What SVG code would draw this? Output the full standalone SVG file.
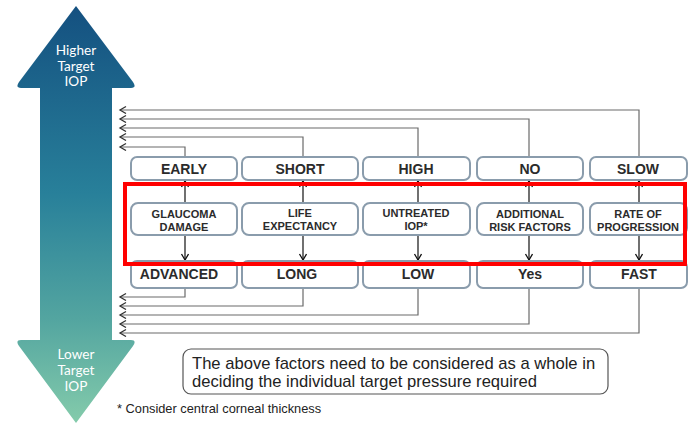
<svg xmlns="http://www.w3.org/2000/svg" width="694" height="426" viewBox="0 0 694 426">
<defs>
<linearGradient id="g" x1="0" y1="0" x2="0" y2="1" gradientUnits="objectBoundingBox">
<stop offset="0" stop-color="#145080"/>
<stop offset="0.45" stop-color="#28809a"/>
<stop offset="0.75" stop-color="#53a5a0"/>
<stop offset="1" stop-color="#84cbab"/>
</linearGradient>
<marker id="ag" markerUnits="userSpaceOnUse" markerWidth="10" markerHeight="10" refX="7" refY="4" orient="auto">
<path d="M1,0.5 L7,4 L1,7.5" fill="none" stroke="#333" stroke-width="1.3"/>
</marker>
<marker id="ab" markerUnits="userSpaceOnUse" markerWidth="10" markerHeight="10" refX="7" refY="4" orient="auto">
<path d="M1,0.5 L7,4 L1,7.5" fill="none" stroke="#111" stroke-width="1.3"/>
</marker>
</defs>
<style>
.box{fill:#fff;stroke:#8a9cac;stroke-width:2}
.t1{font-family:"Liberation Sans",Arial,sans-serif;font-weight:bold;font-size:14px;fill:#2b2b2b;text-anchor:middle}
.t2{font-family:"Liberation Sans",Arial,sans-serif;font-weight:bold;font-size:11px;fill:#2b2b2b;text-anchor:middle}
.ar{font-family:Lato,"Liberation Sans",sans-serif;font-size:13.6px;fill:#fff;text-anchor:middle}
.c{fill:none;stroke:#6a6a6a;stroke-width:1.2}
.m{fill:none;stroke:#111;stroke-width:1.2}
.n{font-family:"Liberation Sans",Arial,sans-serif;fill:#222}
</style>
<g id="iop-arrow">
<path d="M76,6 L133,82 Q137,88 131,88 L112,88 L112,340 L131,340 Q137,340 133,346 L76,423 L19,346 Q15,340 21,340 L40,340 L40,88 L21,88 Q15,88 19,82 Z" fill="url(#g)"/>
<text class="ar" x="76" y="55">Higher</text>
<text class="ar" x="76" y="70.5">Target</text>
<text class="ar" x="76" y="86">IOP</text>
<text class="ar" x="76" y="359">Lower</text>
<text class="ar" x="76" y="375">Target</text>
<text class="ar" x="76" y="391">IOP</text>
</g>
<g id="connectors">
<polyline class="c" points="185,157 185,147 120,147" marker-end="url(#ag)"/>
<polyline class="c" points="303,157 303,137 120,137" marker-end="url(#ag)"/>
<polyline class="c" points="418,157 418,128 120,128" marker-end="url(#ag)"/>
<polyline class="c" points="529,157 529,119 120,119" marker-end="url(#ag)"/>
<polyline class="c" points="639,157 639,110 120,110" marker-end="url(#ag)"/>
<polyline class="c" points="185,288 185,297 120,297" marker-end="url(#ag)"/>
<polyline class="c" points="303,288 303,306 120,306" marker-end="url(#ag)"/>
<polyline class="c" points="418,288 418,315 120,315" marker-end="url(#ag)"/>
<polyline class="c" points="529,288 529,324 120,324" marker-end="url(#ag)"/>
<polyline class="c" points="639,288 639,333 120,333" marker-end="url(#ag)"/>
<line class="m" x1="185" y1="203" x2="185" y2="181" marker-end="url(#ab)"/>
<line class="m" x1="303" y1="203" x2="303" y2="181" marker-end="url(#ab)"/>
<line class="m" x1="418" y1="203" x2="418" y2="181" marker-end="url(#ab)"/>
<line class="m" x1="529" y1="203" x2="529" y2="181" marker-end="url(#ab)"/>
<line class="m" x1="639" y1="203" x2="639" y2="181" marker-end="url(#ab)"/>
<line class="m" x1="185" y1="235" x2="185" y2="260" marker-end="url(#ab)"/>
<line class="m" x1="303" y1="235" x2="303" y2="260" marker-end="url(#ab)"/>
<line class="m" x1="418" y1="235" x2="418" y2="260" marker-end="url(#ab)"/>
<line class="m" x1="529" y1="235" x2="529" y2="260" marker-end="url(#ab)"/>
<line class="m" x1="639" y1="235" x2="639" y2="260" marker-end="url(#ab)"/>
</g>
<g id="early"><rect class="box" x="131" y="157" width="106" height="23" rx="6"/><text class="t1" x="184" y="174">EARLY</text></g>
<g id="short"><rect class="box" x="242" y="157" width="116" height="23" rx="6"/><text class="t1" x="300" y="174">SHORT</text></g>
<g id="high"><rect class="box" x="363" y="157" width="107" height="23" rx="6"/><text class="t1" x="416" y="174">HIGH</text></g>
<g id="no"><rect class="box" x="477" y="157" width="106" height="23" rx="6"/><text class="t1" x="530" y="174">NO</text></g>
<g id="slow"><rect class="box" x="590" y="157" width="97" height="23" rx="6"/><text class="t1" x="638" y="174">SLOW</text></g>
<g id="glaucoma"><rect class="box" x="131" y="203" width="106" height="32" rx="7"/><text class="t2" x="184" y="218">GLAUCOMA</text><text class="t2" x="184" y="231">DAMAGE</text></g>
<g id="life"><rect class="box" x="242" y="203" width="116" height="32" rx="7"/><text class="t2" x="300" y="217">LIFE</text><text class="t2" x="300" y="230">EXPECTANCY</text></g>
<g id="untreated"><rect class="box" x="363" y="203" width="107" height="32" rx="7"/><text class="t2" x="416" y="217">UNTREATED</text><text class="t2" x="416" y="230">IOP*</text></g>
<g id="additional"><rect class="box" x="477" y="203" width="106" height="32" rx="7"/><text class="t2" x="530" y="218">ADDITIONAL</text><text class="t2" x="530" y="231">RISK FACTORS</text></g>
<g id="rate"><rect class="box" x="590" y="203" width="97" height="32" rx="7"/><text class="t2" x="638" y="218">RATE OF</text><text class="t2" x="638" y="231">PROGRESSION</text></g>
<g id="advanced"><rect class="box" x="131" y="261" width="106" height="27" rx="6"/><text class="t1" x="179" y="279">ADVANCED</text></g>
<g id="long"><rect class="box" x="242" y="261" width="116" height="27" rx="6"/><text class="t1" x="297" y="279">LONG</text></g>
<g id="low"><rect class="box" x="363" y="261" width="107" height="27" rx="6"/><text class="t1" x="418" y="279">LOW</text></g>
<g id="yes"><rect class="box" x="477" y="261" width="106" height="27" rx="6"/><text class="t1" x="530" y="279">Yes</text></g>
<g id="fast"><rect class="box" x="590" y="261" width="97" height="27" rx="6"/><text class="t1" x="639" y="279">FAST</text></g>
<rect id="highlight" x="125" y="184" width="560" height="80" fill="none" stroke="#ff0000" stroke-width="4"/>
<g id="note">
<rect x="183" y="349" width="425" height="45" rx="8" fill="#fff" stroke="#555" stroke-width="1.2"/>
<text class="n" x="192" y="369" font-size="16.6">The above factors need to be considered as a whole in</text>
<text class="n" x="192" y="387" font-size="16.6">deciding the individual target pressure required</text>
</g>
<text id="footnote" class="n" x="117" y="413" font-size="12.8">* Consider central corneal thickness</text>
</svg>
